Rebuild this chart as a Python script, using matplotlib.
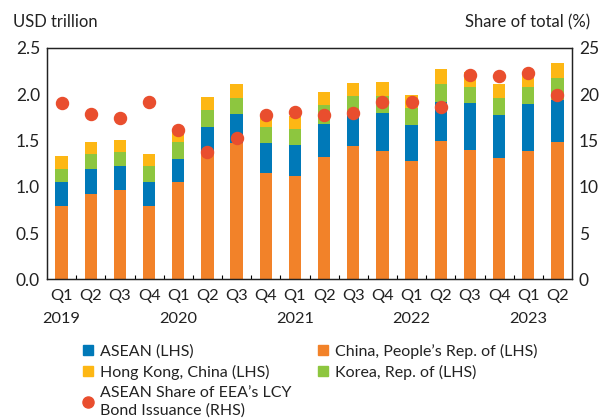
import numpy as np
import matplotlib
matplotlib.use("Agg")
import matplotlib.pyplot as plt
from matplotlib.lines import Line2D

plt.rcParams['font.family'] = ['Lato', 'DejaVu Sans']

quarters = ['Q1', 'Q2', 'Q3', 'Q4'] * 4 + ['Q1', 'Q2']
years = ['2019', '2020', '2021', '2022', '2023']

# USD trillion, stacked from bottom
china = [0.79, 0.92, 0.96, 0.79, 1.05, 1.37, 1.47, 1.15, 1.12,
         1.32, 1.44, 1.39, 1.28, 1.49, 1.40, 1.31, 1.39, 1.48]
asean = [0.26, 0.27, 0.26, 0.26, 0.25, 0.27, 0.32, 0.32, 0.33,
         0.36, 0.38, 0.41, 0.39, 0.43, 0.50, 0.47, 0.50, 0.46]
korea = [0.14, 0.16, 0.15, 0.17, 0.18, 0.19, 0.17, 0.17, 0.17,
         0.20, 0.16, 0.18, 0.18, 0.19, 0.18, 0.18, 0.19, 0.24]
hongkong = [0.14, 0.13, 0.13, 0.13, 0.13, 0.14, 0.15, 0.14, 0.14,
            0.14, 0.14, 0.15, 0.14, 0.16, 0.16, 0.15, 0.15, 0.16]
# ASEAN share of EEA's LCY bond issuance, %
share = [19.0, 17.9, 17.4, 19.1, 16.1, 13.8, 15.3, 17.7, 18.1,
         17.8, 18.0, 19.2, 19.1, 18.6, 22.1, 22.0, 22.3, 19.9]

c_china = '#F28229'
c_asean = '#0079B8'
c_korea = '#8DC63F'
c_hk = '#FDB714'
c_dot = '#E94E2E'

x = np.arange(len(china))
w = 0.42

fig = plt.figure(figsize=(5.99, 4.2), dpi=100)
ax = fig.add_axes([0.0785, 0.335, 0.8765, 0.551])

b1 = np.array(china)
b2 = b1 + np.array(asean)
b3 = b2 + np.array(korea)
ax.bar(x, china, w, color=c_china, zorder=2)
ax.bar(x, asean, w, bottom=b1, color=c_asean, zorder=2)
ax.bar(x, korea, w, bottom=b2, color=c_korea, zorder=2)
ax.bar(x, hongkong, w, bottom=b3, color=c_hk, zorder=2)

ax.set_xlim(-0.5, len(x) - 0.5)
ax.set_ylim(0, 2.5)
ax.set_yticks([0, 0.5, 1.0, 1.5, 2.0, 2.5])
ax.set_yticklabels(['0.0', '0.5', '1.0', '1.5', '2.0', '2.5'])
ax.tick_params(axis='y', length=0, labelsize=12.5, pad=5, colors='#222222')

labels = []
for i, q in enumerate(quarters):
    if i % 4 == 0:
        labels.append(q + '\n' + years[i // 4])
    else:
        labels.append(q)
ax.set_xticks(x)
ax.set_xticklabels(labels, linespacing=1.8)
ax.set_xticks(np.arange(0.5, len(x) - 0.5, 1), minor=True)
ax.tick_params(axis='x', which='major', length=0, labelsize=11.8, pad=7, colors='#222222')
ax.tick_params(axis='x', which='minor', direction='in', length=3, width=0.8)

ax2 = ax.twinx()
ax2.scatter(x, share, s=75, color=c_dot, zorder=3)
ax2.set_ylim(0, 25)
ax2.set_yticks([0, 5, 10, 15, 20, 25])
ax2.tick_params(axis='y', length=0, labelsize=12.5, pad=5, colors='#222222')

for a in (ax, ax2):
    for s in a.spines.values():
        s.set_linewidth(0.9)
        s.set_color('#222222')

fig.text(0.022, 0.947, 'USD trillion', fontsize=12, color='#222222', va='center')
fig.text(0.985, 0.947, 'Share of total (%)', fontsize=12, color='#222222',
         va='center', ha='right')

handles = [
    Line2D([], [], marker='s', ls='none', color=c_asean, markersize=7),
    Line2D([], [], marker='s', ls='none', color=c_hk, markersize=7),
    Line2D([], [], marker='o', ls='none', color=c_dot, markersize=8),
    Line2D([], [], marker='s', ls='none', color=c_china, markersize=7),
    Line2D([], [], marker='s', ls='none', color=c_korea, markersize=7),
]
names = ['ASEAN (LHS)', 'Hong Kong, China (LHS)',
         "ASEAN Share of EEA\u2019s LCY\nBond Issuance (RHS)",
         "China, People\u2019s Rep. of (LHS)", 'Korea, Rep. of (LHS)']
leg = fig.legend(handles, names, ncol=2, loc='upper left', bbox_to_anchor=(0.138, 0.182),
                 frameon=False, fontsize=11.5, handlelength=0.7, handletextpad=0.4,
                 columnspacing=1.6, labelspacing=0.38, borderaxespad=0, borderpad=0)
for t in leg.get_texts():
    t.set_color('#222222')
    t.set_linespacing(1.3)

fig.savefig('out.png', dpi=100)
